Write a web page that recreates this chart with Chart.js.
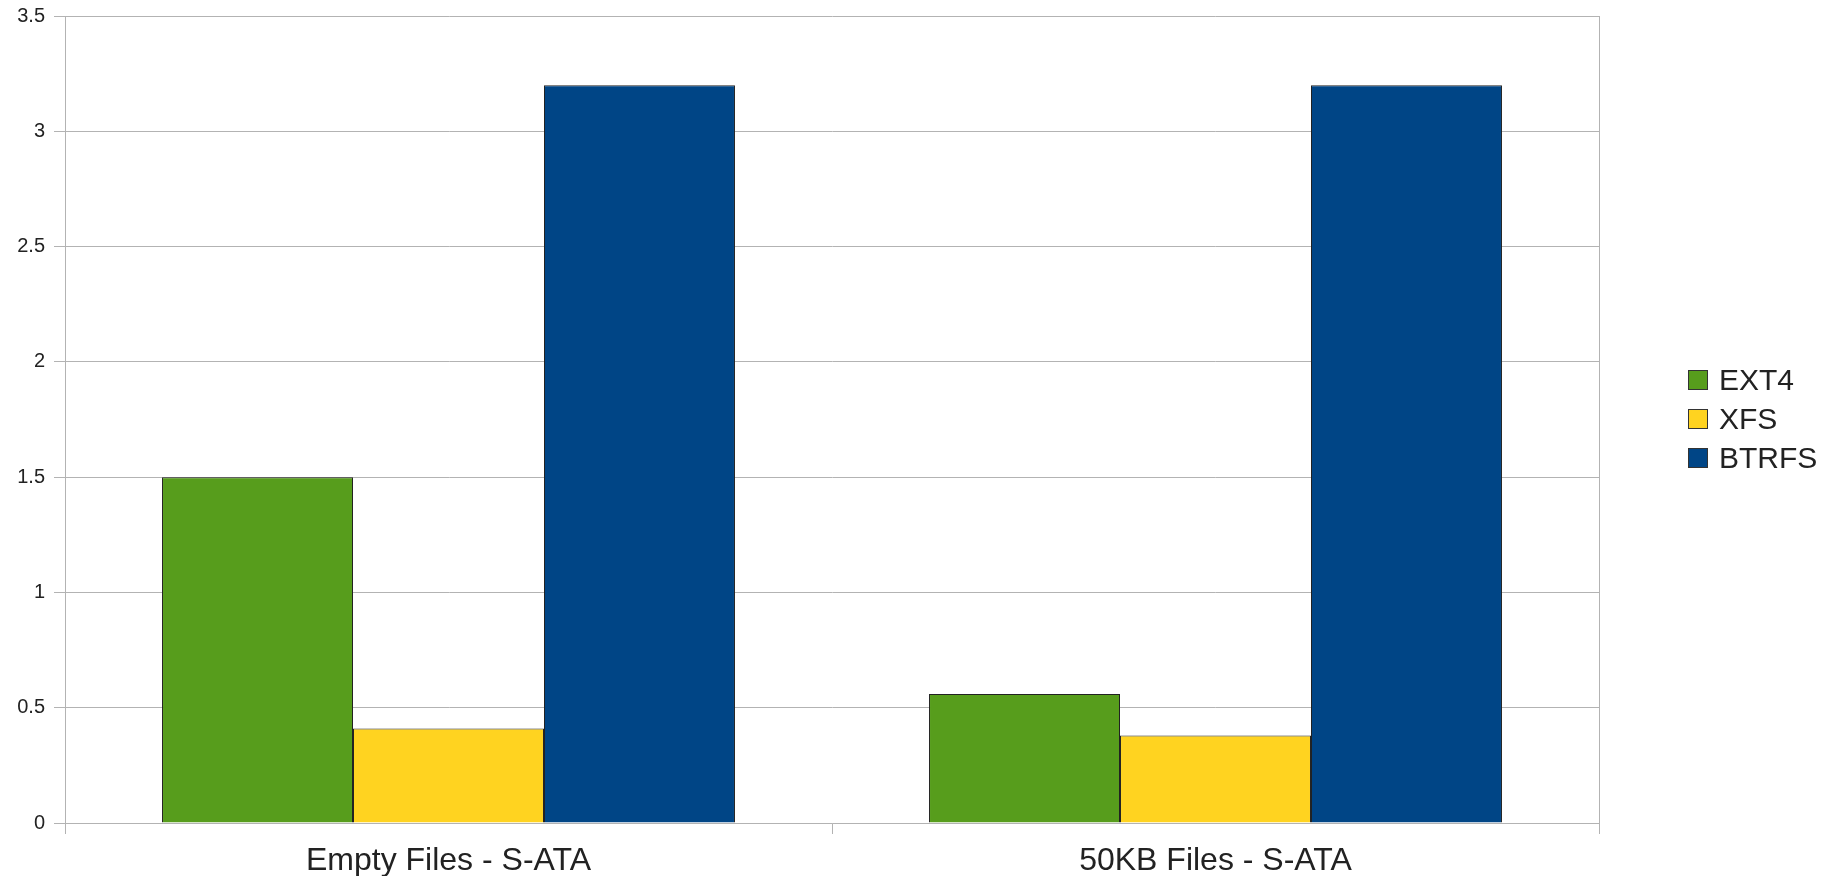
<!DOCTYPE html>
<html>
<head>
<meta charset="utf-8">
<script src="https://cdn.jsdelivr.net/npm/chart.js@4"></script>
<style>
    html, body { margin: 0; padding: 0; background: #fff; }
    #wrap { position: relative; width: 1839px; height: 876px; }
    #legenda {
        position: absolute; left: 1688px; top: 360px;
        font-family: "Liberation Sans", Arial, sans-serif; font-size: 30px; color: #222;
    }
    #legenda div { display: flex; align-items: center; height: 39px; }
    #legenda span.box {
        display: inline-block; width: 18px; height: 18px; margin-right: 11px;
        border: 1px solid #333;
    }
</style>
</head>
<body>
<div id="wrap">
    <canvas id="grafico" width="1839" height="876"></canvas>
    <div id="legenda"></div>
</div>
<script>
// categorias e valores (tempo, segundos)
const categorias = ["Empty Files - S-ATA", "50KB Files - S-ATA"];
const sistemas = ["EXT4", "XFS", "BTRFS"];
const valoresExt4 = [1.5, 0.56];
const valoresXfs = [0.41, 0.38];
const valoresBtrfs = [3.2, 3.2];
const cores = ["#579d1c", "#ffd320", "#004586"];

const fonte = "'Liberation Sans', Arial, sans-serif";
const corGrade = "#b3b3b3";

const ctx = document.getElementById('grafico').getContext('2d');
const chart = new Chart(ctx, {
    type: 'bar',
    data: {
        labels: categorias,
        datasets: [valoresExt4, valoresXfs, valoresBtrfs].map((valores, i) => ({
            label: sistemas[i],
            data: valores,
            backgroundColor: cores[i],
            borderColor: '#222',
            borderWidth: 1,
            categoryPercentage: 0.747,
            barPercentage: 1.0
        }))
    },
    options: {
        responsive: false,
        animation: false,
        layout: { padding: { top: 16, right: 240, left: 0, bottom: 0 } },
        plugins: {
            legend: { display: false },
            tooltip: { enabled: false }
        },
        scales: {
            x: {
                offset: true,
                grid: { offset: true, drawOnChartArea: false, color: corGrade, tickLength: 11 },
                border: { color: corGrade },
                ticks: { font: { family: fonte, size: 32 }, color: '#222', padding: 8 },
                afterFit: (scale) => { scale.height = 53; }
            },
            y: {
                min: 0,
                max: 3.5,
                ticks: {
                    stepSize: 0.5,
                    font: { family: fonte, size: 20 },
                    color: '#222',
                    padding: 9,
                    callback: (v) => String(v)
                },
                grid: { color: corGrade, tickLength: 11 },
                border: { color: corGrade },
                afterFit: (scale) => {
                    scale.width = 65;
                    scale.paddingTop = 0;
                    scale.paddingBottom = 0;
                }
            },
            y2: {
                position: 'right',
                ticks: { display: false },
                grid: { display: false },
                border: { display: true, color: corGrade },
                afterFit: (scale) => { scale.width = 0; }
            }
        }
    }
});

// legenda em HTML ao lado do gráfico
const legenda = document.getElementById('legenda');
chart.data.datasets.forEach((ds) => {
    const linha = document.createElement('div');
    linha.innerHTML = `<span class="box" style="background:${ds.backgroundColor}"></span>${ds.label}`;
    legenda.appendChild(linha);
});
</script>
</body>
</html>
